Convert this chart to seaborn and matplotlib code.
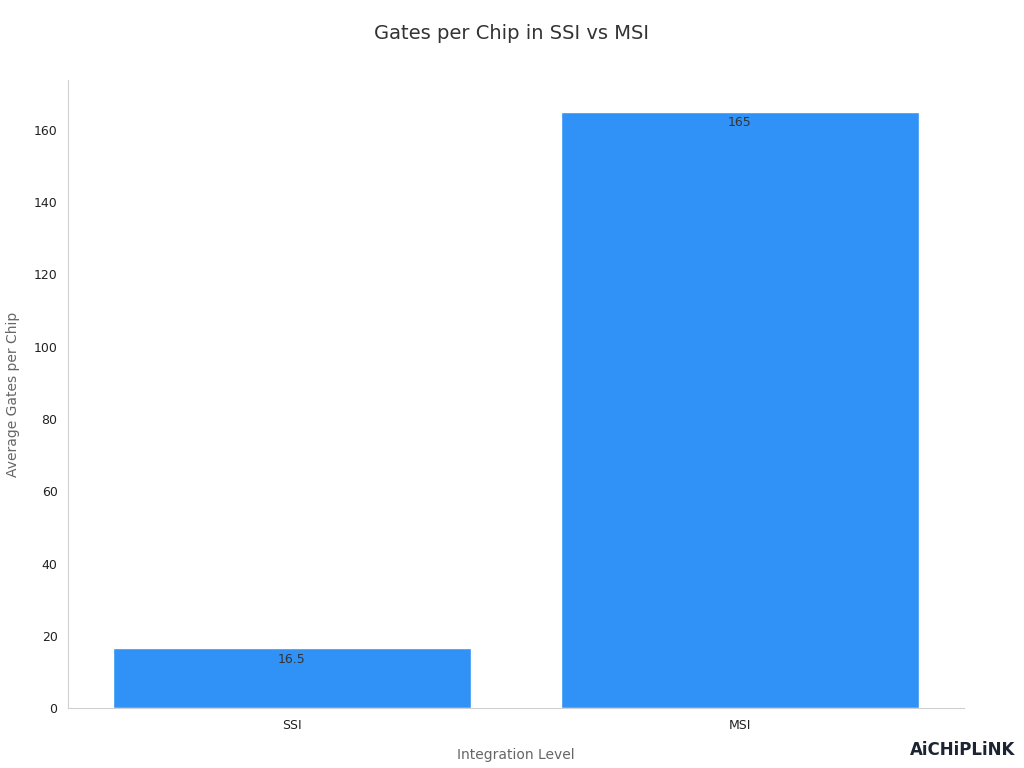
import numpy as np
import pandas as pd
import matplotlib
matplotlib.use("Agg")
import matplotlib.pyplot as plt
import seaborn as sns

levels = ["SSI", "MSI"]
gates = [16.5, 165]
bar_labels = ["16.5", "165"]

df = pd.DataFrame({"Integration Level": levels, "Average Gates per Chip": gates})

sns.set_style("white")
plt.rcParams['font.family'] = ['DejaVu Sans']

fig = plt.figure(figsize=(10.24, 7.68), dpi=100)
ax = fig.add_axes([0.0664, 0.078, 0.875, 0.8177])

sns.barplot(data=df, x="Integration Level", y="Average Gates per Chip",
            color="#3092F7", saturation=1, width=0.8, ax=ax)

for i, (v, lab) in enumerate(zip(gates, bar_labels)):
    ax.annotate(lab, (i, v), xytext=(0, -3), textcoords="offset points",
                ha="center", va="top", fontsize=9, color="#333333")

ax.set_xlim(-0.5, 1.5)
ax.set_ylim(0, 173.8)
ax.set_yticks([0, 20, 40, 60, 80, 100, 120, 140, 160])
ax.tick_params(axis="both", labelsize=9, colors="#222222", length=4, color="#888888")
ax.set_xlabel("Integration Level", fontsize=10, color="#666666", labelpad=12)
ax.set_ylabel("Average Gates per Chip", fontsize=10, color="#666666", labelpad=10)
for s in ["top", "right"]:
    ax.spines[s].set_visible(False)
for s in ["left", "bottom"]:
    ax.spines[s].set_color("#d0d0d0")
    ax.spines[s].set_linewidth(0.8)

fig.text(0.5, 0.957, "Gates per Chip in SSI vs MSI", ha="center", va="center",
         fontsize=14, color="#333333")

# watermark
fig.text(0.94, 0.023, "AiCHiPLiNK", ha="center", va="center", fontsize=12,
         fontweight="bold", color="#1c2333")

fig.savefig("out.png", dpi=100)
